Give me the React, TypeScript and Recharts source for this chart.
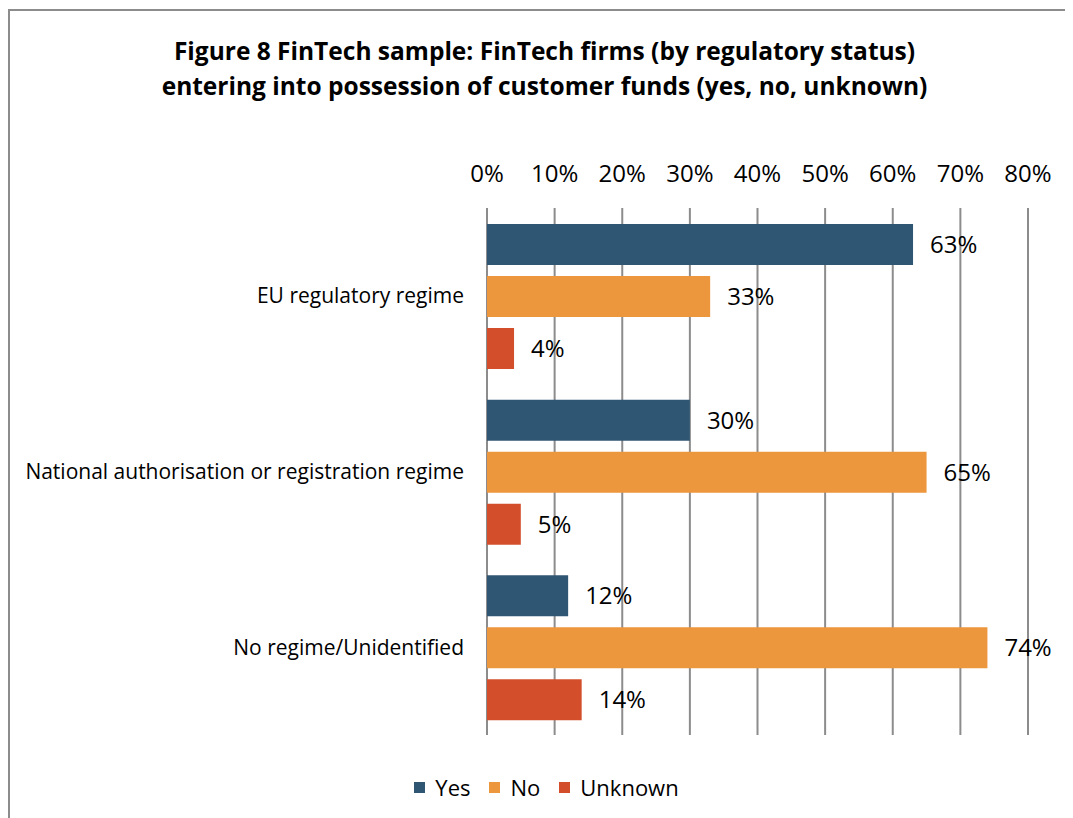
import React from "react";
import {
  Bar,
  BarChart,
  CartesianGrid,
  LabelList,
  Legend,
  XAxis,
  YAxis,
} from "recharts";

const categories = [
  "EU regulatory regime",
  "National authorisation or registration regime",
  "No regime/Unidentified",
];
const yesValues = [63, 30, 12];
const noValues = [33, 65, 74];
const unknownValues = [4, 5, 14];
const xTicks = [0, 10, 20, 30, 40, 50, 60, 70, 80];

const series = [
  { key: "yes", name: "Yes", color: "#2F5673" },
  { key: "no", name: "No", color: "#EC963D" },
  { key: "unknown", name: "Unknown", color: "#D34F2C" },
];

const data = categories.map((name, i) => ({
  name,
  yes: yesValues[i],
  no: noValues[i],
  unknown: unknownValues[i],
}));

const FONT = "'Open Sans', Lato, sans-serif";

function LegendRow() {
  return (
    <div
      style={{
        display: "flex",
        justifyContent: "center",
        alignItems: "center",
        height: 24,
        fontFamily: FONT,
        fontSize: 22,
        color: "#000",
        paddingLeft: 29,
      }}
    >
      {series.map((s) => (
        <span
          key={s.key}
          style={{ display: "flex", alignItems: "center", marginRight: 19 }}
        >
          <span
            style={{
              width: 11,
              height: 11,
              background: s.color,
              marginRight: 10,
              display: "inline-block",
            }}
          />
          {s.name}
        </span>
      ))}
    </div>
  );
}

export default function App() {
  return (
    <div
      style={{
        position: "relative",
        marginTop: 1,
        width: 1065,
        height: 809,
        boxSizing: "border-box",
        borderTop: "2px solid #8c8c8c",
        borderLeft: "2px solid #8c8c8c",
        fontFamily: FONT,
      }}
    >
      <div
        style={{
          position: "absolute",
          top: 22,
          left: 0,
          width: 1063,
          textAlign: "center",
          fontWeight: 700,
          fontSize: 24.5,
          lineHeight: "35px",
          color: "#000",
          paddingLeft: 6,
          boxSizing: "border-box",
        }}
      >
        Figure 8 FinTech sample: FinTech firms (by regulatory status)
        <br />
        entering into possession of customer funds (yes, no, unknown)
      </div>
      <div style={{ position: "absolute", top: 0, left: 0 }}>
        <BarChart
          width={1063}
          height={807}
          data={data}
          layout="vertical"
          margin={{ top: 167, right: 45, bottom: 59, left: 0 }}
          barCategoryGap={16}
          barGap={11}
        >
          <CartesianGrid
            horizontal={false}
            stroke="#8c8c8c"
            strokeWidth={2}
          />
          <XAxis
            type="number"
            orientation="top"
            domain={[0, 80]}
            ticks={xTicks}
            height={30}
            axisLine={false}
            tickLine={false}
            tickMargin={20}
            tickFormatter={(v) => `${v}%`}
            tick={{ fontSize: 24, fill: "#000", fontFamily: FONT }}
          />
          <YAxis
            type="category"
            dataKey="name"
            width={477}
            axisLine={false}
            tickLine={false}
            tickMargin={17}
            tick={{ fontSize: 21, fill: "#000", fontFamily: FONT }}
          />
          <Legend
            verticalAlign="bottom"
            content={() => <LegendRow />}
            wrapperStyle={{ bottom: 19, left: 0, width: 1063 }}
          />
          {series.map((s) => (
            <Bar
              key={s.key}
              dataKey={s.key}
              name={s.name}
              fill={s.color}
              isAnimationActive={false}
            >
              <LabelList
                dataKey={s.key}
                position="right"
                offset={17}
                formatter={(v: number) => `${v}%`}
                style={{ fontSize: 24, fill: "#000", fontFamily: FONT }}
              />
            </Bar>
          ))}
        </BarChart>
      </div>
    </div>
  );
}
